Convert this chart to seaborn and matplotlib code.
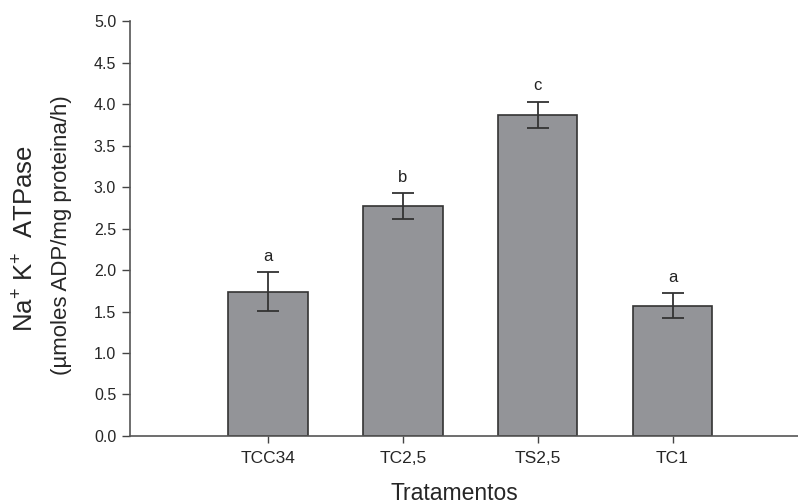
import matplotlib
matplotlib.use("Agg")
import matplotlib.pyplot as plt
import seaborn as sns
import pandas as pd

categories = ["TCC34", "TC2,5", "TS2,5", "TC1"]
means = [1.74, 2.77, 3.87, 1.57]
errors = [0.235, 0.16, 0.16, 0.15]
letters = ["a", "b", "c", "a"]
yticks = [0.0, 0.5, 1.0, 1.5, 2.0, 2.5, 3.0, 3.5, 4.0, 4.5, 5.0]

sns.set_style("white")
plt.rcParams["font.family"] = ["Liberation Sans", "DejaVu Sans"]
plt.rcParams["mathtext.fontset"] = "custom"
plt.rcParams["mathtext.rm"] = "Liberation Sans"
plt.rcParams["mathtext.it"] = "Liberation Sans:italic"

df = pd.DataFrame({"cat": categories, "val": means})

fig = plt.figure(figsize=(7.98, 5.04), dpi=100)
ax = fig.add_axes([0.163, 0.135, 0.837, 0.823])

sns.barplot(data=df, x="cat", y="val", order=categories, color="#939498",
            saturation=1, width=0.59, edgecolor="#333333", linewidth=1.2, ax=ax, errorbar=None)
ax.errorbar(range(len(categories)), means, yerr=errors, fmt="none",
            ecolor="#333333", elinewidth=1.3, capsize=8, capthick=1.3)
for i, (m, e, l) in enumerate(zip(means, errors, letters)):
    ax.text(i, m + e + 0.1, l, ha="center", va="bottom", fontsize=12, color="#222222")

ax.set_xlim(-1.022, 3.93)
ax.set_ylim(0, 5.0)
ax.set_yticks(yticks)
ax.set_yticklabels([f"{v:.1f}" for v in yticks], fontsize=11.5)
ax.tick_params(axis="x", labelsize=12.5, length=5, width=1, color="#444444", direction="out", pad=6)
ax.tick_params(axis="y", length=6, width=1, color="#444444", direction="out", pad=4)
ax.tick_params(axis="both", which="both", bottom=True, left=True)
ax.set_xlabel("")
ax.set_ylabel("")
for s in ["top", "right"]:
    ax.spines[s].set_visible(False)
for s in ["left", "bottom"]:
    ax.spines[s].set_color("#555555")
    ax.spines[s].set_linewidth(1.2)

fig.text(0.033, 0.526, r"Na$^{+}$ K$^{+}$  ATPase", rotation=90, ha="center", va="center", fontsize=18.5)
fig.text(0.077, 0.534, "(µmoles ADP/mg proteina/h)", rotation=90, ha="center", va="center", fontsize=16)
fig.text(0.570, 0.02, "Tratamentos", ha="center", va="center", fontsize=16.5)

fig.savefig("out.png", dpi=100)
